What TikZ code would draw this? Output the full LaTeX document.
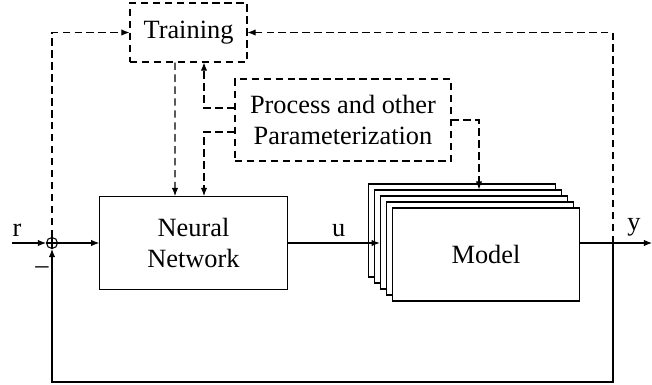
\documentclass[tikz,border=0pt]{standalone}
\usepackage{fontspec}
\setmainfont{Liberation Serif}
\usetikzlibrary{positioning,arrows.meta}

\begin{document}
\begin{tikzpicture}[x=0.02cm, y=-0.02cm, >={Latex[length=4.6pt,width=3.6pt]}, line width=0.6pt,
        font=\fontsize{15}{17.5}\selectfont]
        \tikzstyle{block}=[draw, rectangle, fill=white, minimum width=3.75cm, minimum height=1.86cm, align=center];
        \tikzstyle{dashln}=[dash pattern=on 4.2pt off 2.6pt];
        \tikzstyle{dblock}=[dashln, draw, rectangle, align=center, inner sep=0pt];
        \tikzstyle{sumpt}=[draw, circle, minimum size=0.22cm, inner sep=0pt];

        \useasboundingbox (0,0) rectangle (652,385);

        \node[dblock, minimum width=2.34cm, minimum height=1.18cm] (train) at (188.5,32.5) {Training};
        \node[dblock, minimum width=4.32cm, minimum height=1.64cm] (proc) at (343,120) {Process and other\\Parameterization};
        \node[sumpt] (sum) at (52,243) {};
        \draw (sum.north) -- (sum.south) (sum.west) -- (sum.east);
        \node[block] (nn) at (193.5,243) {Neural\\Network};
        % stacked models, back to front
        \foreach \k in {0,...,4}
            \node[block] (model\k) at (462+6*\k,230.5+6*\k) {};
        \node at (model4) (modeltxt) {Model};

        \coordinate (rin) at (12,243);
        \coordinate (yout) at (652,243);
        \coordinate (tap) at (613,243);
        \coordinate (fb) at (613,382);

        \draw[->] (rin) -- node[pos=0.15, above] (rlbl) {r} (sum.west);
        \draw[->] (sum.east) -- (nn.west);
        \draw[->] (nn.east) -- node[midway, above, xshift=0.1cm] (ulbl) {u} (nn.east -| model2.west);
        \draw[->] (nn.east -| model4.east) -- node[pos=0.75, above] (ylbl) {y} (yout);
        \draw[->] (tap) -- (fb) -| (sum.south);
        \node (minus) at (42,270) {--};

        \draw[dashln,->] (sum.north) |- (train.west);
        \draw[dashln,->] (tap) |- (train.east);
        \draw[dashln,->] ([xshift=-0.27cm]train.south) -- ([xshift=-0.37cm]nn.north);
        \draw[dashln,->] ([yshift=0.24cm]proc.west) -| ([xshift=0.31cm]train.south);
        \draw[dashln,->] ([yshift=-0.24cm]proc.west) -| ([xshift=0.21cm]nn.north);
        \draw[dashln,->] (proc.east) -| ([xshift=0.22cm]model1.north);
    \end{tikzpicture}
\end{document}
